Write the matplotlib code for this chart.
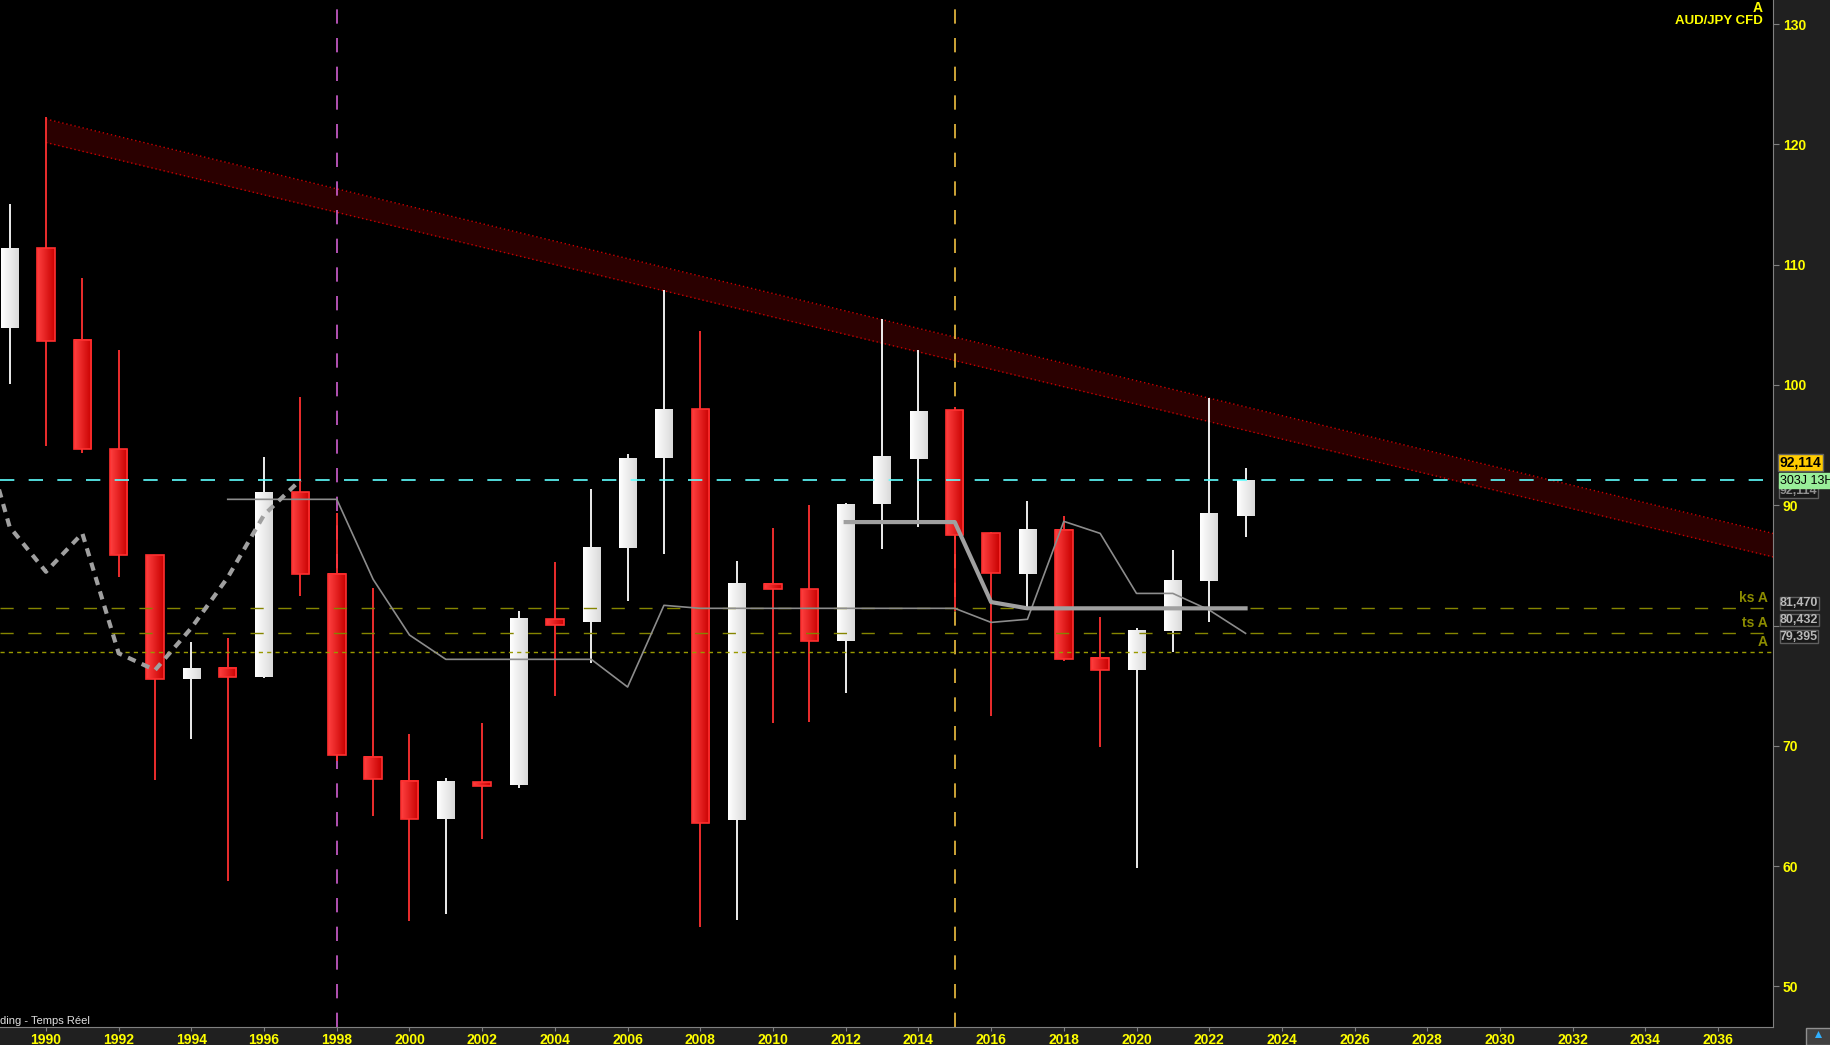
import numpy as np
import matplotlib.pyplot as plt
from matplotlib.patches import Rectangle, Polygon
from matplotlib.colors import LinearSegmentedColormap

plt.rcParams['font.family'] = ['Liberation Sans', 'DejaVu Sans']

# yearly candles AUD/JPY
years = list(range(1989, 2024))
opens = [104.76, 111.38, 103.73, 94.64, 85.83, 75.55, 76.44, 75.74, 91.07, 84.26,
         69.04, 67.05, 63.94, 66.96, 66.77, 80.51, 80.32, 86.47, 93.95, 97.97,
         63.83, 83.45, 83.01, 78.74, 90.13, 93.87, 97.89, 87.66, 84.28, 87.94,
         77.27, 76.33, 79.54, 83.73, 89.13]
highs = [115.04, 122.3, 108.89, 102.9, 85.9, 78.63, 79.0, 94.0, 98.99, 89.33,
         83.09, 70.98, 67.3, 71.9, 81.2, 85.28, 91.35, 94.26, 107.89, 104.48,
         85.36, 88.1, 90.02, 90.21, 105.45, 102.9, 98.16, 87.75, 90.35, 89.1,
         80.71, 79.77, 86.28, 98.89, 93.07]
lows = [100.1, 94.95, 94.3, 84.06, 67.16, 70.56, 58.8, 75.6, 82.48, 68.76,
        64.19, 55.46, 56.04, 62.28, 66.52, 74.14, 76.91, 82.04, 85.97, 54.96,
        55.52, 71.87, 72.0, 74.42, 86.39, 88.21, 81.2, 72.5, 81.51, 77.08,
        69.93, 59.87, 77.82, 80.32, 87.38]
closes = [111.38, 103.67, 94.64, 85.83, 75.53, 76.45, 75.69, 91.1, 84.26, 69.21,
          67.21, 63.89, 67.05, 66.63, 80.62, 80.07, 86.53, 93.92, 98.0, 63.61,
          83.45, 83.01, 78.69, 90.1, 94.09, 97.83, 87.55, 84.34, 87.94, 77.19,
          76.27, 79.63, 83.7, 89.38, 92.114]

# ichimoku style lines
tenkan_years = [1995, 1998, 1999, 2000, 2001, 2005, 2006, 2007, 2008, 2015,
                2016, 2017, 2018, 2019, 2020, 2021, 2022, 2023]
tenkan_vals = [90.49, 90.49, 83.84, 79.21, 77.19, 77.19, 74.89, 81.68, 81.43, 81.43,
               80.26, 80.52, 88.66, 87.66, 82.67, 82.67, 81.29, 79.35]
kijun_years = [2012, 2015, 2016, 2017, 2023]
kijun_vals = [88.6, 88.6, 81.95, 81.43, 81.43]
chikou_years = [1988, 1989, 1990, 1991, 1992, 1993, 1994, 1995, 1996, 1997]
chikou_vals = [98.8, 88.2, 84.47, 87.66, 77.69, 76.3, 79.8, 84.0, 89.2, 92.1]

# descending channel
channel_x = [1990, 2037.6]
channel_top = [122.1, 87.59]
channel_width = 1.95

last_price = 92.114
ks_level = 81.47
ts_level = 79.395
a_level = 77.8
level_labels = ["81,470", "80,432", "79,395"]
vline_years = [1998, 2015]
vline_colors = ['#d060d0', '#f0c040']
ytick_vals = list(range(50, 131, 10))
# 80 is hidden behind the level boxes
ytick_labels = ['' if v == 80 else str(v) for v in ytick_vals]

W, H = 1831, 1045
def fx(px):
    return px / W
def fy(py):
    return 1 - py / H

fig = plt.figure(figsize=(W / 100, H / 100), dpi=100, facecolor='#202020')
ax = fig.add_axes([0, fy(1027), fx(1773), 1 - fy(1027)])
ax.set_facecolor('black')

# channel band
xs = np.array(channel_x)
top = np.array(channel_top)
bot = top - channel_width
ax.fill_between(xs, bot, top, color='#2a0000', zorder=1, lw=0)
ax.plot(xs, top, color='#c80000', lw=1, ls=(0, (1, 2)), zorder=1.2)
ax.plot(xs, bot, color='#c80000', lw=1, ls=(0, (1, 2)), zorder=1.2)

for yr, c in zip(vline_years, vline_colors):
    ax.axvline(yr, color=c, lw=1.2, ls=(0, (8.6, 8.6)), zorder=1.5)

# candles
red_cmap = LinearSegmentedColormap.from_list('red', ['#ff4040', '#c80000'])
white_cmap = LinearSegmentedColormap.from_list('white', ['#ffffff', '#dadada'])
grad = np.linspace(0, 1, 64).reshape(1, -1)
w = 0.48
for yr, o, h, l, c in zip(years, opens, highs, lows, closes):
    up = c >= o
    wick = 'white' if up else '#ff3030'
    ax.vlines(yr, l, h, color=wick, lw=1.3, zorder=2)
    y0, y1 = min(o, c), max(o, c)
    ax.imshow(grad, extent=(yr - w / 2, yr + w / 2, y0, y1), aspect='auto',
              cmap=white_cmap if up else red_cmap, interpolation='bilinear', zorder=3)
    if not up:
        ax.add_patch(Rectangle((yr - w / 2, y0), w, y1 - y0, fill=False,
                               edgecolor='#ff3030', lw=1.2, zorder=3.1))

# horizontal levels
ax.axhline(last_price, color='#60ffff', lw=1.2, ls=(0, (8.6, 8.6)), zorder=5)
ax.axhline(ks_level, color='#858500', lw=1, ls=(0, (9.5, 10.5)), zorder=5)
ax.axhline(ts_level, color='#858500', lw=1, ls=(0, (9.5, 10.5)), zorder=5)
ax.axhline(a_level, color='#9a9a00', lw=1, ls=(0, (3, 3)), zorder=5)

ax.plot(tenkan_years, tenkan_vals, color='#8c8c8c', lw=1.2, zorder=6)
ax.plot(kijun_years, kijun_vals, color='#a0a0a0', lw=3, zorder=6)
ax.plot(chikou_years, chikou_vals, color='#a0a0a0', lw=3, ls=(0, (2, 1.6)), zorder=6)

ax.set_xlim(1988.735, 2037.51)
ax.set_ylim(46.63, 131.995)

ax.yaxis.tick_right()
ax.set_yticks(ytick_vals)
ax.set_yticklabels(ytick_labels)
ax.set_xticks(range(1990, 2037, 2))
for s in ['left', 'top']:
    ax.spines[s].set_visible(False)
for s in ['right', 'bottom']:
    ax.spines[s].set_color('#808080')
ax.tick_params(axis='y', length=4, color='#808080', labelcolor='#ffff00', pad=3,
               labelsize=10)
ax.tick_params(axis='x', length=3, color='#808080', labelcolor='#ffff00', pad=1,
               labelsize=10)
for t in ax.get_xticklabels() + ax.get_yticklabels():
    t.set_fontweight('bold')

# top-right title
fig.text(fx(1763), fy(8), "A", color='#ffff00', fontsize=10, fontweight='bold',
         ha='right', va='center')
fig.text(fx(1763), fy(21.5), "AUD/JPY CFD", color='#ffff00', fontsize=9.5,
         fontweight='bold', ha='right', va='center')

# price boxes on the right
def box(py, txt, fc, tc, ec='#606060', bold=True, x=1780, size=9.5, pad=0.15):
    fig.text(fx(x), fy(py), txt, color=tc, fontsize=size, fontweight='bold' if bold else 'normal',
             ha='left', va='center',
             bbox=dict(boxstyle='square,pad=%s' % pad, fc=fc, ec=ec, lw=1))

box(491, "92,114", '#181818', '#909090', size=9, pad=0.05)
box(462.5, "92,114", '#ffcc00', 'black', size=10, pad=0.12)
box(480.5, "303J 13H", '#99ee99', 'black', ec='#99ee99', bold=False, size=9, pad=0.1)
for py, txt in zip([603.5, 620, 636.5], level_labels):
    box(py, txt, '#181818', '#b8b8b8', size=9, pad=0.03)

for py, txt in zip([598, 623, 641.7], ["ks A", "ts A", "A"]):
    fig.text(fx(1768), fy(py), txt, color='#8c8c00', fontsize=10, fontweight='bold',
             ha='right', va='center')

fig.text(fx(0), fy(1021.5), "ding - Temps Réel", color='#e0e0e0', fontsize=8,
         ha='left', va='center')

# small icon bottom right
fig.patches.append(Rectangle((fx(1806), fy(1045)), fx(25), 1 - fy(17), transform=fig.transFigure,
                             fc='#404040', ec='#909090', lw=1))
fig.patches.append(Polygon([[fx(1815), fy(1038)], [fx(1822), fy(1038)], [fx(1818.5), fy(1031)]],
                           closed=True, transform=fig.transFigure, fc='#30b0ff', ec='none'))

fig.savefig('out.png', dpi=100, facecolor=fig.get_facecolor())
